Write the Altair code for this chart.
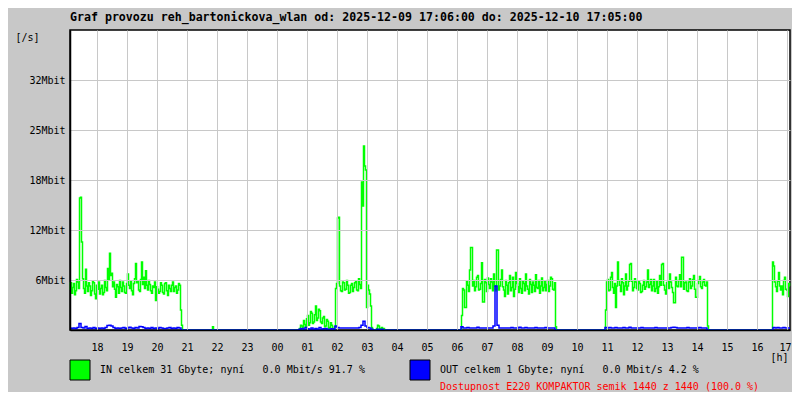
import altair as alt
import pandas as pd

# ---- data (Mbit/s) ----
# IN series: one value every 2 minutes from 17:06; OUT series: one value every 4 minutes
TOTAL_MIN = 1440
IN_STEP = 2
OUT_STEP = 4

y_ticks = [6.25, 12.5, 18.75, 25.0, 31.25]
y_tick_labels = ["6Mbit", "12Mbit", "18Mbit", "25Mbit", "32Mbit"]

# IN segments (start index in 2-minute steps)
in_seg1_start = 0
in_seg1 = [5.0, 5.9, 4.6, 5.3, 5.8, 4.4, 4.9, 6.3, 6.0, 5.2, 16.5, 16.6, 11.0, 6.4, 5.2,
           4.6, 7.6, 5.5, 4.8, 5.9, 5.5, 4.3, 4.9, 6.1, 5.9, 4.5, 3.9, 5.6, 5.1, 6.0,
           4.5, 5.2, 5.6, 4.4, 4.7, 6.2, 5.3, 4.9, 7.7, 6.3, 9.6, 6.8, 7.1, 5.4, 6.0,
           5.1, 4.1, 5.7, 5.4, 4.6, 6.2, 5.3, 4.8, 6.0, 5.5, 4.7, 4.6, 5.8, 7.0, 5.6,
           5.2, 6.1, 4.9, 4.4, 5.8, 6.4, 8.3, 5.9, 6.1, 5.0, 4.8, 6.3, 8.5, 5.7, 6.6,
           5.2, 7.4, 5.6, 5.0, 6.2, 5.7, 4.9, 4.6, 5.5, 5.3, 6.0, 3.7, 5.4, 5.1, 4.6,
           4.8, 5.9, 5.6, 4.7, 4.5, 5.8, 5.9, 4.9, 4.3, 5.6, 5.2, 4.8, 5.6, 6.0, 4.8,
           5.3, 5.5, 4.6, 5.0, 5.8, 5.6, 2.5, 0.6]

in_blip_start = 143
in_blip = [0.4]

in_seg2_start = 230
in_seg2 = [0.2, 0.6, 0.5, 0.1, 1.2, 0.7, 0.4, 1.4, 1.8, 0.6, 0.9, 2.3, 2.1, 0.8, 1.0,
           1.9, 3.0, 1.2, 1.5, 2.6, 2.4, 1.0, 0.8, 1.5, 1.7, 0.4, 0.5, 1.3, 1.1, 0.2,
           0.3, 0.9, 0.6, 0.1, 0.2, 0.4, 5.2, 5.8, 14.0, 14.1, 5.5, 4.9, 4.8, 6.0, 5.9,
           5.0, 5.1, 6.2, 5.6, 4.6, 4.7, 5.6, 5.8, 4.8, 5.3, 5.9, 6.1, 5.0, 4.9, 6.4,
           5.7, 5.2, 18.5, 15.5, 23.0, 20.5, 20.0, 2.8, 5.6, 5.0, 4.5, 3.0, 0.3, 0.0, 0.0,
           0.0, 0.0, 0.2, 0.6, 0.5, 0.2, 0.0, 0.3, 0.1, 0.2]

in_seg3_start = 392
in_seg3 = [1.8, 5.2, 5.0, 2.8, 2.8, 6.1, 5.6, 4.8, 7.5, 10.3, 10.3, 5.5, 6.2, 4.9, 5.4,
           6.6, 6.8, 5.0, 5.1, 5.8, 8.4, 3.5, 3.5, 6.3, 5.9, 4.8, 6.5, 5.7, 5.2, 6.4,
           6.0, 4.9, 7.0, 5.5, 4.9, 10.0, 10.0, 5.0, 5.5, 6.3, 7.5, 5.4, 5.0, 4.2, 6.2,
           5.6, 4.5, 5.9, 6.8, 4.9, 5.3, 6.6, 4.2, 5.1, 7.2, 5.8, 5.4, 4.7, 6.4, 5.2,
           4.6, 6.1, 5.8, 4.9, 7.0, 5.5, 5.1, 4.5, 6.3, 5.7, 4.7, 6.0, 5.6, 4.8, 6.9,
           5.3, 5.2, 6.2, 4.6, 5.5, 6.5, 4.9, 5.3, 6.1, 4.9, 5.7, 6.2, 4.8, 5.5, 6.6,
           6.4, 5.1, 5.0, 5.9, 0.4]

in_seg4_start = 536
in_seg4 = [2.5, 6.0, 6.3, 4.9, 5.0, 6.6, 7.2, 5.3, 4.6, 5.8, 2.8, 5.5, 8.5, 6.2, 5.6,
           4.8, 6.4, 5.9, 4.4, 5.5, 7.0, 5.0, 5.5, 6.1, 8.2, 8.3, 6.1, 4.9, 5.3, 6.4,
           6.0, 5.2, 5.0, 6.1, 5.8, 4.7, 4.8, 5.6, 6.2, 5.1, 5.4, 6.0, 7.5, 5.3, 5.7,
           6.3, 4.9, 5.5, 6.3, 4.8, 5.2, 6.1, 4.6, 5.4, 6.8, 5.6, 8.2, 8.3, 5.6, 5.0,
           4.5, 5.9, 6.1, 5.2, 7.0, 6.0, 5.3, 4.7, 3.4, 3.4, 6.6, 5.5, 5.4, 6.2, 6.9,
           5.4, 9.1, 9.1, 5.1, 5.9, 6.0, 4.9, 4.8, 6.0, 6.4, 5.2, 5.5, 6.3, 6.8, 5.1,
           4.1, 4.1, 5.8, 6.2, 6.7, 5.4, 5.2, 6.0, 6.3, 5.6, 5.5, 6.0, 0.5]

in_seg5_start = 703
in_seg5 = [8.5, 8.0, 6.0, 5.4, 4.8, 6.1, 7.2, 5.5, 5.0, 5.5, 4.4, 6.2, 6.6, 5.1, 5.0,
           4.2, 5.8, 5.5]

# OUT segments (start index in 4-minute steps)
out_seg1_start = 0
out_seg1 = [0.25, 0.2, 0.25, 0.2, 0.3, 0.8, 0.3, 0.25, 0.45, 0.2, 0.25, 0.2, 0.3, 0.2, 0.25,
            0.2, 0.25, 0.2, 0.3, 0.55, 0.6, 0.5, 0.3, 0.2, 0.25, 0.2, 0.25, 0.3, 0.2, 0.25,
            0.35, 0.25, 0.2, 0.3, 0.25, 0.45, 0.4, 0.3, 0.2, 0.25, 0.2, 0.3, 0.2, 0.25, 0.2,
            0.3, 0.25, 0.2, 0.2, 0.25, 0.3, 0.2, 0.25, 0.2, 0.3, 0.25, 0.0]
out_seg2_start = 115
out_seg2 = [0.1, 0.2, 0.1, 0.3, 0.15, 0.1, 0.25, 0.1, 0.2, 0.1, 0.3, 0.1, 0.15, 0.2, 0.1,
            0.1, 0.15, 0.1, 0.5, 0.3, 0.25, 0.25, 0.25, 0.25, 0.25, 0.25, 0.25, 0.25, 0.25, 0.25,
            0.3, 0.6, 1.1, 0.5, 0.3, 0.25, 0.1, 0.0, 0.0, 0.1, 0.0, 0.1, 0.0]
out_seg3_start = 196
out_seg3 = [0.4, 0.25, 0.25, 0.3, 0.25, 0.25, 0.25, 0.25, 0.35, 0.25, 0.25, 0.25, 0.25, 0.25, 0.25,
            0.25, 0.5, 5.5, 0.6, 0.25, 0.25, 0.25, 0.25, 0.25, 0.25, 0.3, 0.25, 0.25, 0.25, 0.35,
            0.25, 0.25, 0.3, 0.25, 0.25, 0.25, 0.25, 0.3, 0.25, 0.25, 0.25, 0.25, 0.3, 0.25, 0.25,
            0.25, 0.25, 0.0]
out_seg4_start = 268
out_seg4 = [0.3, 0.25, 0.3, 0.25, 0.25, 0.3, 0.25, 0.25, 0.25, 0.3, 0.25, 0.25, 0.35, 0.25, 0.25,
            0.25, 0.25, 0.25, 0.3, 0.25, 0.25, 0.25, 0.25, 0.25, 0.25, 0.3, 0.25, 0.25, 0.25, 0.25,
            0.25, 0.25, 0.25, 0.3, 0.35, 0.3, 0.25, 0.25, 0.25, 0.25, 0.25, 0.3, 0.25, 0.25, 0.25,
            0.25, 0.25, 0.3, 0.25, 0.25, 0.25, 0.0]
out_seg5_start = 352
out_seg5 = [0.3, 0.25, 0.3, 0.25, 0.25, 0.3, 0.25, 0.25, 0.25]

title_text = "Graf provozu reh_bartonickova_wlan od: 2025-12-09 17:06:00 do: 2025-12-10 17:05:00"
NB = "\u00a0"
in_text = "IN celkem 31 Gbyte; nyní" + NB * 3 + "0.0 Mbit/s 91.7 %"
out_text = "OUT celkem 1 Gbyte; nyní" + NB * 3 + "0.0 Mbit/s 4.2 %"
avail_text = "Dostupnost E220 KOMPAKTOR semik 1440 z 1440 (100.0 %)"


# ---- build tables ----
def build(step, segments):
    n = TOTAL_MIN // step + 1
    vals = [0.0] * n
    for start, seg in segments:
        for i, v in enumerate(seg):
            if start + i < n:
                vals[start + i] = v
    return [i * step for i in range(n)], vals


t_in, v_in = build(IN_STEP, [(in_seg1_start, in_seg1), (in_blip_start, in_blip),
                             (in_seg2_start, in_seg2), (in_seg3_start, in_seg3),
                             (in_seg4_start, in_seg4), (in_seg5_start, in_seg5)])
t_out, v_out = build(OUT_STEP, [(out_seg1_start, out_seg1), (out_seg2_start, out_seg2),
                                (out_seg3_start, out_seg3), (out_seg4_start, out_seg4),
                                (out_seg5_start, out_seg5)])
df = pd.DataFrame({"t": t_in + t_out,
                   "v": v_in + v_out,
                   "s": ["IN"] * len(t_in) + ["OUT"] * len(t_out)})

x_ticks = [54 + 60 * k for k in range(24)]
FONT = "DejaVu Sans Mono"
GRID = "#c8c8c8"

x_enc = alt.X("t:Q", scale=alt.Scale(domain=[0, TOTAL_MIN], nice=False, zero=False),
              axis=alt.Axis(values=x_ticks,
                            labelExpr="pad(toString((18 + (datum.value - 54) / 60) % 24), 2, '0', 'left')",
                            title="[h]", titleX=700, titleY=27, titleAlign="left",
                            titleBaseline="middle", titleFont=FONT, titleFontSize=10,
                            titleFontWeight="normal",
                            grid=True, gridColor=GRID, gridWidth=1,
                            ticks=False, labelPadding=12, labelFont=FONT, labelFontSize=10,
                            labelColor="black", domainColor="black", domainWidth=1.5,
                            labelFlush=4, labelFlushOffset=4,
                            labelOverlap=False, zindex=1))
y_enc = alt.Y("v:Q", scale=alt.Scale(domain=[0, 37.5], nice=False),
              axis=alt.Axis(values=y_ticks,
                            labelExpr="['6Mbit','12Mbit','18Mbit','25Mbit','32Mbit'][round(datum.value/6.25)-1]",
                            title="[/s]", titleAngle=0, titleX=-55, titleY=7, titleAlign="left",
                            titleBaseline="middle", titleFont=FONT, titleFontSize=10,
                            titleFontWeight="normal",
                            grid=True, gridColor=GRID, gridWidth=1,
                            ticks=False, labelPadding=5, labelFont=FONT, labelFontSize=10,
                            labelColor="black", domainColor="black", domainWidth=1.5,
                            labelOverlap=False, zindex=1))

lines = alt.Chart(df).mark_line(interpolate="step", strokeWidth=1.5).encode(
    x=x_enc, y=y_enc,
    color=alt.Color("s:N", scale=alt.Scale(domain=["IN", "OUT"], range=["#00ff00", "#0000ff"]),
                    legend=None),
    order=alt.Order("s:N"),
)

one = pd.DataFrame({"a": [0]})
sq_in = alt.Chart(one).mark_rect(fill="#00ff00", stroke="black", strokeWidth=1).encode(
    x=alt.value(0), x2=alt.value(20), y=alt.value(330), y2=alt.value(350))
sq_out = alt.Chart(one).mark_rect(fill="#0000ff", stroke="black", strokeWidth=1).encode(
    x=alt.value(340), x2=alt.value(360), y=alt.value(330), y2=alt.value(350))
txt_in = alt.Chart(one).mark_text(align="left", baseline="middle", font=FONT, fontSize=10,
                                  color="black").encode(
    x=alt.value(30), y=alt.value(340), text=alt.value(in_text))
txt_out = alt.Chart(one).mark_text(align="left", baseline="middle", font=FONT, fontSize=10,
                                   color="black").encode(
    x=alt.value(370), y=alt.value(340), text=alt.value(out_text))
txt_av = alt.Chart(one).mark_text(align="left", baseline="middle", font=FONT, fontSize=10,
                                  color="#ff0000").encode(
    x=alt.value(370), y=alt.value(357), text=alt.value(avail_text))

chart = alt.layer(lines, sq_in, sq_out, txt_in, txt_out, txt_av).properties(
    width=720, height=300,
    title=alt.TitleParams(title_text, anchor="start", frame="group", font=FONT, fontSize=11.6,
                          fontWeight="bold", color="black", offset=6),
    autosize=alt.AutoSizeParams(type="none"),
    padding={"left": 62, "top": 22, "right": 2, "bottom": 62},
    background="#c8c8c8",
).configure_view(fill="white", stroke="black", strokeWidth=1.5)

chart.save("out.html", embed_options={"renderer": "svg", "actions": False})
